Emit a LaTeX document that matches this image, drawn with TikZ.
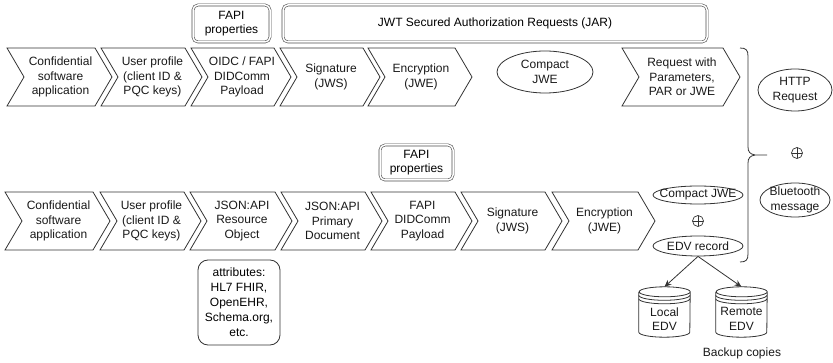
\documentclass[tikz,border=0pt]{standalone}
\usepackage{fontspec}
\setmainfont{Liberation Sans}
\usetikzlibrary{arrows.meta,shapes.geometric}
\tikzset{
  ln/.style={draw=black!80, line width=0.8pt},
  chev/.style={ln, line join=miter},
  lbl/.style={align=center, font=\fontsize{12}{14.5}\selectfont, inner sep=0pt, text=black!90},
  oval/.style={ellipse, ln, inner sep=0pt},
  dbox/.style={draw=black!70, line width=0.6pt, double=white, double distance=1.5pt,
    rounded corners=5pt, align=center, inner sep=0pt, font=\fontsize{12}{14.5}\selectfont},
  rbox/.style={ln, rounded corners=10pt, align=center, inner sep=0pt, font=\fontsize{12}{15}\selectfont},
  oplus/.style={circle, draw=black!80, line width=0.7pt, minimum size=11pt, inner sep=0pt,
    path picture={\draw[black!80, line width=0.7pt]
      (path picture bounding box.north) -- (path picture bounding box.south)
      (path picture bounding box.west) -- (path picture bounding box.east);}},
  arr/.style={ln, -{Stealth[length=7pt, width=6pt]}},
}
% chevron: name, left, top, width, height, text
\newcommand{\chevbox}[6]{%
  \draw[chev] (#2,#3) -- ({#2+#4-17},#3) -- ({#2+#4},{#3+#5/2}) -- ({#2+#4-17},{#3+#5})
    -- (#2,{#3+#5}) -- ({#2+17},{#3+#5/2}) -- cycle;
  \node[lbl] (#1) at ({#2+#4/2+1},{#3+#5/2}) {#6};
}
% cylinder: name, centre x, top, width, height, text
\newcommand{\cylbox}[6]{%
  \node[minimum width=#4pt, minimum height=#5pt, inner sep=0pt] (#1) at (#2,{#3+#5/2}) {};
  \draw[ln] ([yshift=-5pt]#1.north west) -- ([yshift=5pt]#1.south west)
    arc[start angle=180, end angle=360, x radius={#4pt/2}, y radius=5pt]
    -- ([yshift=-5pt]#1.north east)
    arc[start angle=0, end angle=180, x radius={#4pt/2}, y radius=5pt]
    arc[start angle=180, end angle=360, x radius={#4pt/2}, y radius=5pt];
  \draw[ln] ([yshift=-8.5pt]#1.north west) arc[start angle=180, end angle=360, x radius={#4pt/2}, y radius=5pt];
  \draw[ln] ([yshift=-12pt]#1.north west) arc[start angle=180, end angle=360, x radius={#4pt/2}, y radius=5pt];
  \node[lbl] (#1-t) at ([yshift=-7pt]#1.center) {#6};
}
\begin{document}
\begin{tikzpicture}[x=1pt, y=-1pt]
\useasboundingbox (0,0) rectangle (833,363);

% header boxes
\node[dbox, minimum width=77pt, minimum height=37pt] (fapitop) at (231.5,23.5) {FAPI\\properties};
\node[dbox, minimum width=424pt, minimum height=37pt] (jar) at (495,23.5) {JWT Secured Authorization Requests (JAR)};

% top row
\chevbox{t1}{7}{48}{105}{58}{Confidential\\software\\application}
\chevbox{t2}{101}{48}{101}{58}{User profile\\(client ID \&\\PQC keys)}
\chevbox{t3}{191}{48}{100}{58}{OIDC / FAPI\\DIDComm\\Payload}
\chevbox{t4}{280}{48}{100}{58}{Signature\\(JWS)}
\chevbox{t5}{368}{48}{104}{58}{Encryption\\(JWE)}
\node[oval, minimum width=96pt, minimum height=42pt] (cjwetop) at (545,72) {};
\node[lbl] (cjwetopt) at (cjwetop) {Compact\\JWE};
\chevbox{t6}{622}{48}{118}{58}{Request with\\Parameters,\\PAR or JWE}

% bottom FAPI box
\node[dbox, minimum width=73pt, minimum height=35pt] (fapibot) at (416.5,162.5) {FAPI\\properties};

% bottom row
\chevbox{b1}{5}{192}{105}{58}{Confidential\\software\\application}
\chevbox{b2}{100}{192}{101}{58}{User profile\\(client ID \&\\PQC keys)}
\chevbox{b3}{190}{192}{102}{58}{JSON:API\\Resource\\Object}
\chevbox{b4}{281}{192}{101}{58}{JSON:API\\Primary\\Document}
\chevbox{b5}{371}{192}{101}{58}{FAPI\\DIDComm\\Payload}
\chevbox{b6}{461}{192}{101}{58}{Signature\\(JWS)}
\chevbox{b7}{552}{192}{103}{58}{Encryption\\(JWE)}

% attributes
\node[rbox, minimum width=82pt, minimum height=85pt] (attr) at (239,302.5)
  {attributes:\\HL7 FHIR,\\OpenEHR,\\Schema.org,\\etc.};

% compact JWE + EDV record
\node[oval, minimum width=90pt, minimum height=18pt] (cjwebot) at (698,195) {};
\node[lbl] (cjwebott) at (cjwebot) {Compact JWE};
\node[oplus] (op2) at (698,221) {};
\node[oval, minimum width=90pt, minimum height=20pt] (edv) at (698,246) {};
\node[lbl] (edvt) at (edv) {EDV record};

% brace
\draw[ln] (740,48) .. controls (746,48) and (748,50) .. (748,56) -- (748,147)
  .. controls (748,152) and (750,154) .. (755,155) -- (767,155);
\draw[ln] (755,155) .. controls (750,156) and (748,158) .. (748,163) -- (748,254)
  .. controls (748,260) and (746,262) .. (740,262);

% right side
\node[oval, minimum width=74pt, minimum height=42pt] (http) at (795,90) {};
\node[lbl] (httpt) at (http) {HTTP\\Request};
\node[oplus] (op1) at (797,153) {};
\node[oval, minimum width=70pt, minimum height=34pt] (bt) at (795,200) {};
\node[lbl] (btt) at (bt) {Bluetooth\\message};

% storage
\cylbox{local}{664.5}{287}{51}{50}{Local\\EDV}
\cylbox{remote}{741.5}{287}{51}{50}{Remote\\EDV}
\draw[arr] (edv.south) -- (local.north);
\draw[arr] (edv.south) -- (remote.north);
\node[lbl] (backup) at (742,353) {Backup copies};
\end{tikzpicture}
\end{document}
